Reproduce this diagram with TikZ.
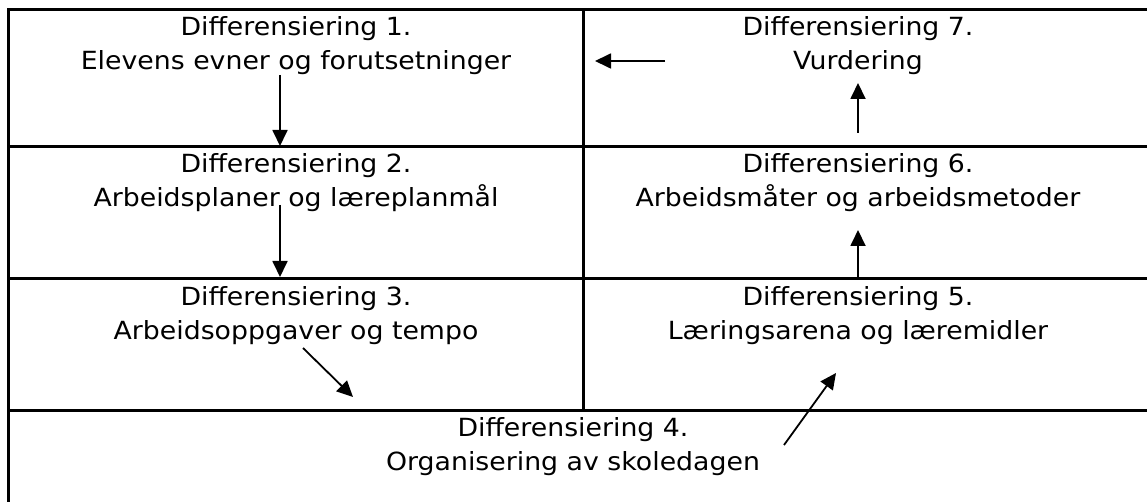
\documentclass[tikz,border=0pt]{standalone}
\usepackage{fontspec}
\setmainfont[FakeStretch=1.07]{DejaVu Sans}
\usetikzlibrary{arrows.meta}
\begin{document}
\begin{tikzpicture}[x=1pt,y=-1pt,
  grid/.style={line width=3pt},
  flow/.style={line width=1.8pt,-{Triangle[length=16pt,width=15pt]}},
  lbl/.style={inner sep=0pt,align=center,anchor=base,
    font=\fontsize{25}{34}\selectfont}]
\useasboundingbox (0,0) rectangle (1147,502);
% table rules
\draw[grid] (1147,10) -- (8,10) -- (8,502);
\draw[grid] (8,147) -- (1147,147);
\draw[grid] (8,279) -- (1147,279);
\draw[grid] (8,410) -- (1147,410);
\draw[grid] (583,10) -- (583,410);
% cell texts (base = baseline of the second line)
\node[lbl] (d1) at (296,70) {Differensiering 1.\\Elevens evner og forutsetninger};
\node[lbl] (d2) at (296,207) {Differensiering 2.\\Arbeidsplaner og læreplanmål};
\node[lbl] (d3) at (296,339) {Differensiering 3.\\Arbeidsoppgaver og tempo};
\node[lbl] (d4) at (573,470) {Differensiering 4.\\Organisering av skoledagen};
\node[lbl] (d5) at (858,339) {Differensiering 5.\\Læringsarena og læremidler};
\node[lbl] (d6) at (858,207) {Differensiering 6.\\Arbeidsmåter og arbeidsmetoder};
\node[lbl] (d7) at (858,70) {Differensiering 7.\\Vurdering};
% arrow end points
\coordinate (a1s) at (280,75);  \coordinate (a1e) at (280,146);
\coordinate (a2s) at (280,205); \coordinate (a2e) at (280,277);
\coordinate (a3s) at (303,348); \coordinate (a3e) at (353,397);
\coordinate (a4s) at (784,445); \coordinate (a4e) at (836,373);
\coordinate (a5s) at (858,278); \coordinate (a5e) at (858,230);
\coordinate (a6s) at (858,133); \coordinate (a6e) at (858,83);
\coordinate (a7s) at (665,61);  \coordinate (a7e) at (595,61);
% arrows
\draw[flow] (a1s) -- (a1e);
\draw[flow] (a2s) -- (a2e);
\draw[flow] (a3s) -- (a3e);
\draw[flow] (a4s) -- (a4e);
\draw[flow] (a5s) -- (a5e);
\draw[flow] (a6s) -- (a6e);
\draw[flow] (a7s) -- (a7e);
\end{tikzpicture}
\end{document}
